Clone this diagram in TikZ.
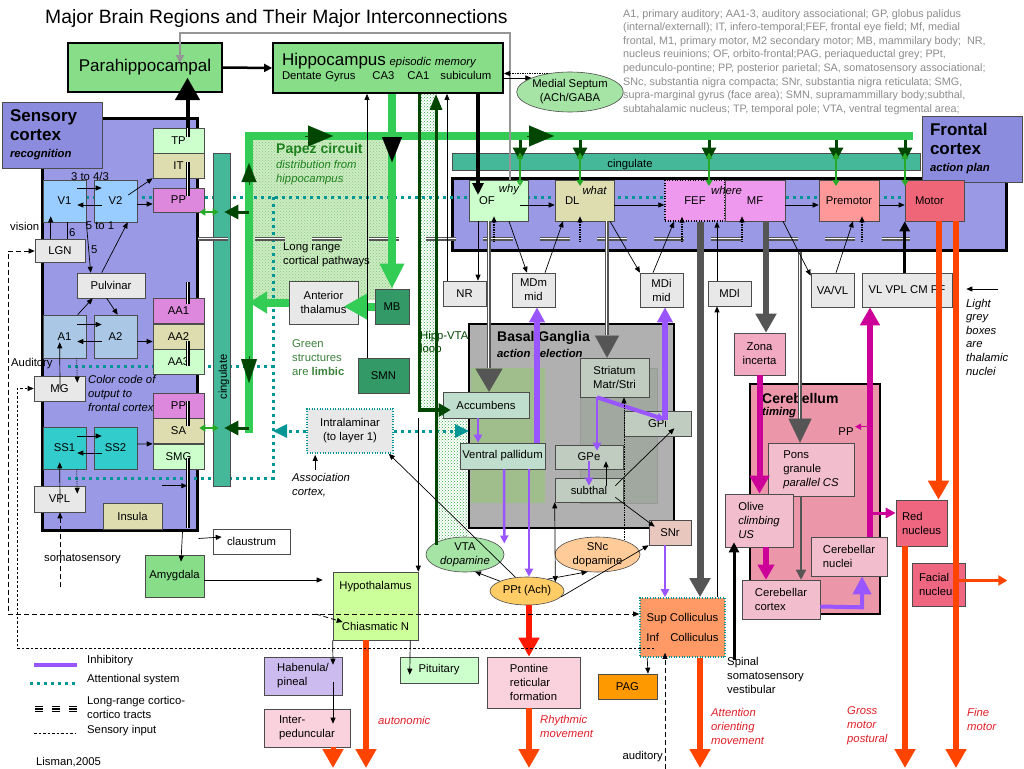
\documentclass[tikz,border=0pt]{standalone}
\usepackage{fontspec}
\setmainfont{Liberation Sans}
\usetikzlibrary{arrows.meta,patterns,shapes.geometric,calc}
\pgfdeclarelayer{panel}
\pgfdeclarelayer{behind}
\pgfsetlayers{panel,behind,main}
\newcommand{\labfont}{\fontsize{11.3}{14}\selectfont}
\definecolor{sensblue}{RGB}{153,153,230}
\definecolor{senslab}{RGB}{140,140,222}
\definecolor{limgreen}{RGB}{136,221,136}
\definecolor{septgreen}{RGB}{165,228,165}
\definecolor{vblue}{RGB}{153,204,255}
\definecolor{ablue}{RGB}{170,200,230}
\definecolor{sscyan}{RGB}{51,204,204}
\definecolor{palegreen}{RGB}{204,255,204}
\definecolor{khaki}{RGB}{221,221,176}
\definecolor{ppink}{RGB}{221,136,221}
\definecolor{thalgrey}{RGB}{232,232,232}
\definecolor{cing}{RGB}{68,184,153}
\definecolor{papgreen}{RGB}{51,204,85}
\definecolor{dkgreen}{RGB}{0,70,0}
\definecolor{ltgreen}{RGB}{40,170,40}
\definecolor{attcol}{RGB}{0,150,150}
\definecolor{bggrey}{RGB}{176,176,176}
\definecolor{ventral}{RGB}{160,190,140}
\definecolor{dorsal}{RGB}{160,168,160}
\definecolor{bgbox}{RGB}{192,204,192}
\definecolor{accgreen}{RGB}{192,222,205}
\definecolor{inhib}{RGB}{153,85,255}
\definecolor{mag}{RGB}{204,0,153}
\definecolor{motred}{RGB}{255,68,0}
\definecolor{pptred}{RGB}{255,25,0}
\definecolor{cerpink}{RGB}{236,150,170}
\definecolor{zonapink}{RGB}{242,170,195}
\definecolor{cerbox}{RGB}{242,190,205}
\definecolor{rednuc}{RGB}{238,102,128}
\definecolor{colli}{RGB}{255,153,102}
\definecolor{pagor}{RGB}{255,153,0}
\definecolor{hypo}{RGB}{204,255,153}
\definecolor{haben}{RGB}{204,187,238}
\definecolor{pontpink}{RGB}{250,210,222}
\definecolor{premot}{RGB}{255,153,153}
\definecolor{motor}{RGB}{238,102,119}
\definecolor{fefpink}{RGB}{238,153,238}
\definecolor{tractgrey}{RGB}{85,85,85}
\definecolor{linegrey}{RGB}{150,150,150}
\definecolor{abbrgrey}{RGB}{140,140,140}
\definecolor{papshade}{RGB}{205,236,195}
\definecolor{papdots}{RGB}{135,198,125}
\definecolor{hatchgreen}{RGB}{40,170,60}
\definecolor{snrtan}{RGB}{232,200,190}
\definecolor{sncpeach}{RGB}{255,204,153}
\definecolor{pptorange}{RGB}{255,204,102}
\definecolor{papeztext}{RGB}{30,130,30}
\definecolor{limbictext}{RGB}{60,130,60}
\definecolor{mbgreen}{RGB}{51,153,102}
\definecolor{redtext}{RGB}{225,30,40}
\tikzset{
  box/.style={draw=black!70, line width=0.6pt, align=center, inner sep=0pt, font=\labfont},
  sz/.style 2 args={minimum width=#1pt, minimum height=#2pt},
  arr/.style={line width=0.7pt, -{Triangle[length=6pt,width=5pt]}},
  inh/.style={draw=inhib, line width=2.5pt, -{Triangle[length=8pt,width=8pt]}},
  inhbig/.style={draw=inhib, line width=5.5pt, -{Triangle[length=15pt,width=15pt]}},
  attn/.style={draw=attcol, line width=3pt, dash pattern=on 3pt off 4pt},
  tract/.style={draw=#1, line width=3.8pt, postaction={draw=white, line width=2.2pt}, postaction={draw=#1, line width=0.7pt}},
  papez/.style={draw=papgreen, line width=8pt},
  dgarr/.style={draw=dkgreen, line width=3pt, -{Triangle[length=14pt,width=14pt]}},
  lgarr/.style={draw=ltgreen, line width=1.5pt, {Triangle[length=6pt,width=7pt]}-{Triangle[length=6pt,width=7pt]}},
  motarr/.style={draw=motred, line width=6pt, -{Triangle[length=19pt,width=20pt]}},
  magarr/.style={draw=mag, line width=6pt, -{Triangle[length=18pt,width=19pt]}},
  sensein/.style={dash pattern=on 5pt off 3pt, line width=0.8pt},
  sensefine/.style={dash pattern=on 2.5pt off 2pt, line width=0.5pt},
  note/.style={anchor=west, align=left, inner sep=0pt, font=\labfont},
  lefttext/.style={text width=39pt, align=left},
}
\begin{document}
\begin{tikzpicture}[x=1pt,y=-1pt]
\useasboundingbox (0,0) rectangle (1024,768);
\begin{pgfonlayer}{panel}
\fill[white] (0,0) rectangle (1024,768);
\node[draw=black, line width=3pt, fill=sensblue, sz={155}{412}] (senspanel) at (119.5,324) {};
\node[draw=black, line width=3pt, fill=sensblue, sz={554}{72}] (frontpanel) at (729,214) {};
\path[preaction={fill=papshade}, pattern=crosshatch dots, pattern color=papdots] (249,136) rectangle (393,300);
\path[preaction={fill=white}, pattern=crosshatch dots, pattern color=hatchgreen] (418,93) rectangle (436,409) (436,409) rectangle (469,540);
\node[draw=black, line width=2pt, fill=bggrey, sz={205}{204}] (bg) at (571.5,426) {};
\node[fill=ventral, sz={74}{135}] (ventral) at (508,435.5) {};
\node[draw=black!40, fill=dorsal, sz={77}{135}] (dorsal) at (618.5,435.5) {};
\node[draw=black, line width=2.5pt, fill=cerpink, sz={130}{230}] (cereb) at (815,499) {};
\end{pgfonlayer}

% title and abbreviations
\node[anchor=west, inner sep=0pt, font=\fontsize{19.3}{22}\selectfont] (title) at (45,19) {Major Brain Regions and Their Major Interconnections};
\node[anchor=north west, inner sep=0pt, align=left, text=abbrgrey, font=\fontsize{10.8}{13.6}\selectfont] (abbr) at (623,9) {A1, primary auditory; AA1-3, auditory associational; GP, globus palidus\\
(internal/externall); IT, infero-temporal;FEF, frontal eye field; Mf, medial\\
frontal, M1, primary motor, M2 secondary motor; MB, mammilary body;\ \ NR,\\
nucleus reuinions; OF, orbito-frontal;PAG, periaqueductal grey; PPt,\\
pedunculo-pontine; PP, posterior parietal; SA, somatosensory associational;\\
SNc, substantia nigra compacta; SNr, substantia nigra reticulata; SMG,\\
supra-marginal gyrus (face area); SMN, supramammillary body;subthal,\\
subtahalamic nucleus; TP, temporal pole; VTA, ventral tegmental area;};

% hippocampal system
\node[box, draw=black, line width=1.8pt, fill=limgreen, sz={154}{49}, font=\fontsize{17}{19}\selectfont] (parahip) at (145,67.5) {Parahippocampal};
\node[box, draw=black, line width=1.8pt, fill=limgreen, sz={230}{50}, text width=212pt, align=left] (hippo) at (388,68) {{\fontsize{17}{19}\selectfont Hippocampus} {\itshape episodic memory}\par
Dentate Gyrus\hspace{17pt}CA3\hspace{13pt}CA1\hspace{11pt}subiculum\par};
\node[box, ellipse, fill=septgreen, sz={92}{40}] (septum) at (570,92) {Medial Septum\\(ACh/GABA};

% sensory cortex
\node[draw=black!70, line width=0.6pt, fill=senslab, sz={100}{66}, text width=84pt, align=left, inner sep=0pt] (senslab) at (52,135) {{\fontsize{17}{19}\selectfont\bfseries Sensory\\cortex\par}{\fontsize{11.3}{17}\selectfont\bfseries\itshape recognition\par}};
\node[box, fill=vblue, sz={43}{42}] (v1) at (64.5,201) {V1};
\node[box, fill=vblue, sz={43}{42}] (v2) at (115.5,201) {V2};
\node[box, fill=palegreen, sz={51}{25}] (tp) at (178.5,140.5) {TP};
\node[box, fill=khaki, sz={51}{25}] (it) at (178.5,165.5) {IT};
\node[box, fill=ppink, sz={51}{24}] (pp) at (178.5,200) {PP};
\node[box, fill=thalgrey, sz={50}{23}] (lgn) at (60,251) {LGN};
\node[box, fill=thalgrey, sz={68}{25}] (pulv) at (111,285.5) {Pulvinar};
\node[box, fill=ablue, sz={43}{43}] (a1) at (64.5,336.5) {A1};
\node[box, fill=ablue, sz={43}{43}] (a2) at (115.5,336.5) {A2};
\node[box, fill=ppink, sz={51}{25}] (aa1) at (178.5,311) {AA1};
\node[box, fill=khaki, sz={51}{25}] (aa2) at (178.5,336.5) {AA2};
\node[box, fill=palegreen, sz={51}{25}] (aa3) at (178.5,362) {AA3};
\node[box, fill=thalgrey, sz={51}{25}] (mg) at (59.5,388.5) {MG};
\node[box, fill=ppink, sz={51}{25}] (pp2) at (178.5,405.5) {PP};
\node[box, fill=khaki, sz={51}{25}] (sa) at (178.5,431) {SA};
\node[box, fill=palegreen, sz={51}{25}] (smg) at (178.5,456.5) {SMG};
\node[box, fill=sscyan, sz={43}{42}] (ss1) at (64.5,448) {SS1};
\node[box, fill=sscyan, sz={43}{42}] (ss2) at (115.5,448) {SS2};
\node[box, fill=thalgrey, sz={51}{26}] (vpl) at (59.5,499) {VPL};
\node[box, fill=khaki, sz={59}{26}] (insula) at (132.5,516) {Insula};
\node[box, fill=cing, sz={17}{333}] (cingver) at (221.5,319.5) {};
\node[rotate=90, font=\labfont, inner sep=0pt] (cingvlab) at (224,377) {cingulate};

% frontal cortex
\node[box, fill=cing, sz={468}{17}] (cinghor) at (686,161.5) {};
\node[font=\labfont, inner sep=0pt] (cinghlab) at (630,165) {cingulate};
\node[draw=black!70, line width=0.6pt, fill=senslab, sz={100}{66}, text width=84pt, align=left, inner sep=0pt] (frontlab) at (972,149) {{\fontsize{17}{19}\selectfont\bfseries Frontal\\cortex\par}{\fontsize{11.3}{17}\selectfont\bfseries\itshape action plan\par}};
\node[box, fill=palegreen, lefttext, sz={59}{41}] (of) at (498.5,200.5) {OF};
\node[box, fill=khaki, lefttext, sz={59}{41}] (dl) at (584.5,200.5) {DL};
\node[box, fill=fefpink, draw=black, dotted, line width=1.4pt, sz={60}{41}] (fef) at (695,200.5) {FEF};
\node[box, fill=fefpink, sz={60}{41}] (mf) at (755,200.5) {MF};
\node[box, fill=premot, sz={60}{41}] (premotor) at (849,200.5) {Premotor};
\node[box, fill=motor, lefttext, sz={59}{41}] (motor) at (934.5,200.5) {Motor};
\node[font=\labfont\itshape, inner sep=0pt] (whylab) at (509,190) {why};
\node[font=\labfont\itshape, inner sep=0pt] (whatlab) at (594.5,190) {what};
\node[font=\labfont\itshape, inner sep=0pt] (wherelab) at (726.5,190) {where};

% thalamic nuclei
\node[box, fill=thalgrey, sz={43}{25}] (nr) at (464.5,293.5) {NR};
\node[box, fill=thalgrey, sz={43}{34}] (mdm) at (533.5,290) {MDm\\mid};
\node[box, fill=thalgrey, sz={43}{34}] (mdi) at (661.5,290) {MDi\\mid};
\node[box, fill=thalgrey, sz={43}{25}] (mdl) at (729.5,293.5) {MDl};
\node[box, fill=thalgrey, sz={43}{34}] (vavl) at (832.5,290) {VA/VL};
\node[box, fill=thalgrey, sz={90}{34}] (vlvpl) at (907,290) {VL VPL CM PF};
\node[box, fill=thalgrey, sz={69}{43}] (antthal) at (323.5,302.5) {Anterior\\thalamus};
\node[box, fill=mbgreen, sz={34}{35}] (mb) at (392,306.5) {MB};
\node[box, fill=mbgreen, sz={51}{35}] (smn) at (383.5,375.5) {SMN};
\node[box, fill=thalgrey, draw=attcol, dotted, line width=1.6pt, sz={86}{44}] (intral) at (350,431) {Intralaminar\\(to layer 1)};

% basal ganglia
\node[box, fill=bgbox, sz={69}{39}] (striatum) at (614.5,377.5) {Striatum\\Matr/Stri};
\node[box, fill=bgbox, sz={67}{25}] (gpi) at (657.5,423.5) {GPi};
\node[box, fill=bgbox, sz={68}{24}] (gpe) at (589,457) {GPe};
\node[box, fill=bgbox, sz={68}{24}] (subthal) at (589,490) {subthal};
\node[box, fill=accgreen, sz={86}{26}] (acc) at (486,405) {Accumbens};
\node[box, fill=accgreen, sz={85}{26}] (vp) at (502.5,456) {Ventral pallidum};
\node[box, fill=snrtan, sz={42}{25}] (snr) at (670,532.5) {SNr};
\node[box, ellipse, fill=sncpeach, sz={85}{35}] (snc) at (597.5,554.5) {SNc\\dopamine};
\node[box, ellipse, fill=pptorange, sz={74}{28}] (ppt) at (527,591) {PPt (Ach)};
\node[box, ellipse, fill=septgreen, sz={78}{35}] (vta) at (465,554.5) {VTA\\\textit{dopamine}};
\node[note, font=\fontsize{14}{16}\selectfont\bfseries] (bglab) at (497,338) {Basal Ganglia};
\node[note, font=\labfont\bfseries\itshape] (bgsub) at (497,353) {action selection};

% cerebellum and motor
\node[box, fill=zonapink, sz={51}{42}] (zona) at (759.5,354) {Zona\\incerta};
\node[box, fill=cerbox, align=left, sz={86}{53}] (pons) at (811,469.5) {Pons\\granule\\\textit{parallel CS}};
\node[box, fill=cerbox, align=left, sz={68}{53}] (olive) at (759,520.5) {Olive\\\textit{climbing}\\\textit{US}};
\node[box, fill=cerbox, align=left, sz={76}{39}] (cernuc) at (849,556.5) {Cerebellar\\nuclei};
\node[box, fill=cerbox, align=left, sz={78}{39}] (cercor) at (781,599.5) {Cerebellar\\cortex};
\node[box, fill=rednuc, align=left, sz={51}{46}] (rednucl) at (921.5,523) {Red\\nucleus};
\node[box, fill=rednuc, align=left, sz={53}{43}] (facial) at (938.5,584.5) {Facial\\nucleus};
\node[note, font=\fontsize{14}{16}\selectfont\bfseries] (cerlab) at (762,398) {Cerebellum};
\node[note, font=\labfont\bfseries\itshape] (cersub) at (762,413) {timing};
\node[font=\labfont, inner sep=0pt] (pplab) at (846,432) {PP};

% lower structures
\node[box, fill=white, sz={77}{25}] (claus) at (251.5,541.5) {claustrum};
\node[box, fill=limgreen, sz={59}{42}] (amyg) at (174.5,576) {Amygdala};
\node[box, fill=hypo, sz={85}{68}] (hypoth) at (375.5,606) {Hypothalamus\\[27pt]Chiasmatic N};
\node[box, fill=haben, align=left, sz={78}{38}] (haben) at (303,676) {Habenula/\\pineal};
\node[box, fill=pontpink, align=left, sz={86}{38}] (interp) at (307,728) {Inter-\\peduncular};
\node[box, fill=palegreen, sz={78}{26}] (pit) at (439,670) {Pituitary};
\node[box, fill=pontpink, align=left, sz={93}{51}] (pont) at (533.5,682.5) {Pontine\\reticular\\formation};
\node[box, fill=colli, draw=attcol, dotted, line width=1.6pt, sz={85}{59}] (colli) at (682.5,627.5) {Sup Colliculus\\[6pt]Inf\quad Colliculus};
\node[box, fill=pagor, sz={59}{25}] (pag) at (627.5,686.5) {PAG};

% helper points on the nodes
\coordinate (smnUp) at ($(smn.north)+(-16.5,0)$);
\coordinate (nrUp) at ($(nr.north)+(-17.5,0)$);
\coordinate (vtaUp) at ($(vta.north)+(-29,8)$);
\coordinate (strTip) at ($(striatum.north)+(-7.5,0)$);
\coordinate (ponsTip) at ($(pons.north)+(-11,0)$);
\coordinate (outY) at (0,768);
\coordinate (fineTop) at ($(motor.south)+(21.5,0)$);
\coordinate (grossTop) at ($(rednucl.south)+(-16.5,0)$);
\coordinate (autoTop) at ($(hypoth.south)+(-9.5,0)$);
\coordinate (ipTop) at ($(interp.south)+(26,0)$);
\coordinate (rhythTop) at ($(pont.south)+(-4.5,0)$);
\coordinate (orientTop) at ($(colli.south)+(17.5,0)$);

% attentional system, behind the boxes
\begin{pgfonlayer}{behind}
\coordinate (attTop) at (273,197);
\coordinate (attMid) at (273,366);
\coordinate (attBot) at (273,478);
\draw[attn] ($(v1.east)+(0,-4)$) -- ($(motor.west)+(0,-3.5)$);
\draw[attn] (68,366) -- (attMid);
\draw[attn] (68,478) -- (attBot) -- (attTop);
\end{pgfonlayer}
\draw[attn, -{Triangle[length=14pt,width=13pt]}] (intral.west) -- (attTop |- intral.west);
\draw[attn, -{Triangle[length=14pt,width=13pt]}] (intral.east) -- (469,0 |- intral.east);

% long range tracts
\foreach \a/\b in {97/137,162/196,282/304,341/366,401/426,458/528}
  \draw[tract=black] (188,\a) -- (188,\b);
\draw[-{Triangle[length=22pt,width=25pt]}, line width=0.1pt] (187.5,0 |- tp.north) -- (187.5,78);
\draw[tract=tractgrey, dash pattern=on 30pt off 27pt] (198,239) -- (910,239);
\draw[tract=tractgrey] (489,0 |- of.south) -- (489,368);
\draw[tractgrey, -{Triangle[length=23pt,width=27pt]}, line width=0.1pt] (489,369) -- (489,0 |- acc.north);
\draw[tract=tractgrey] (strTip |- dl.south) -- ($(strTip)+(0,-23)$);
\draw[tractgrey, -{Triangle[length=22pt,width=24pt]}, line width=0.1pt] ($(strTip)+(0,-22)$) -- (strTip);
\draw[tract=tractgrey] (ponsTip |- frontpanel.south) -- ($(ponsTip)+(0,-24)$);
\draw[tractgrey, -{Triangle[length=24pt,width=23pt]}, line width=0.1pt] ($(ponsTip)+(0,-23)$) -- (ponsTip);
\draw[tractgrey, line width=1.5pt, -{Triangle[length=10pt,width=10pt]}] ($(pons.south)+(-10,0)$) -- ($(cercor.north)+(20,0)$);
\draw[tractgrey, line width=7pt, -{Triangle[length=19pt,width=20pt]}] ($(fef.south)+(5,0)$) -- ($(colli.north)+(17.5,0)$);
\draw[tractgrey, line width=6pt, -{Triangle[length=19pt,width=20pt]}] ($(mf.south)+(11,0)$) -- ($(zona.north)+(6.5,0)$);

% Papez circuit
\coordinate (papL) at (249,136);
\coordinate (papR) at (913,136);
\draw[papez] (papL) -- (papR);
\draw[papez] ($(papL)+(0,-4)$) -- (249,433);
\draw[dkgreen, -{Triangle[length=25pt,width=21pt]}, line width=0.1pt] (305,136) -- (333,136);
\draw[dkgreen, -{Triangle[length=25pt,width=21pt]}, line width=0.1pt] (527,136) -- (554,136);
\draw[dkgreen, -{Triangle[length=19pt,width=15pt]}, line width=0.1pt] (249,185) -- (249,163);
\draw[dkgreen, -{Triangle[length=24pt,width=16pt]}, line width=0.1pt] (249,356) -- (249,383);
\draw[dgarr] (249,212) -- ($(cingver.east |- pp.east)+(-6,12)$);
\draw[dgarr] (249,428) -- ($(cingver.east |- sa.east)+(-6,-3)$);
\draw[lgarr] ($(pp.east)+(-5,12)$) -- ($(cingver.west |- pp.east)+(6,12)$);
\draw[lgarr] ($(sa.east)+(-5,-3)$) -- ($(cingver.west |- sa.east)+(6,-3)$);
\foreach \x in {520,580,709,836,905}
  \draw[dgarr] (\x,140) -- (\x,0 |- cinghor.center);
\draw[draw=ltgreen, line width=1.5pt, {Triangle[open,length=6pt,width=7pt]}-{Triangle[open,length=6pt,width=7pt]}] (520,0 |- cinghor.north) -- (520,186);
\foreach \x in {580,709,836,905}
  \draw[lgarr] (\x,0 |- cinghor.north) -- (\x,186);
\draw[papez, -{Triangle[length=25pt,width=23pt]}] (mb.north |- hippo.south) -- (mb.north);
\draw[-{Triangle[length=25pt,width=20pt]}, line width=0.1pt] (392,137) -- (392,162);
\draw[papez, -{Triangle[length=24pt,width=25pt]}] (mb.west) -- ++(-31,0);
\draw[papez, -{Triangle[length=18pt,width=21pt]}] (antthal.west) -- (papL |- antthal.west);

% hippocampal connections
\draw[line width=2.5pt, -{Triangle[length=8pt,width=8pt]}] (parahip.east) -- (hippo.west);
\draw[linegrey, line width=2.5pt, -{Triangle[length=8pt,width=8pt]}] (510,0 |- of.north) -- (510,33) -- (180,33) -- ($(parahip.north)+(35,21)$);
\draw[arr] (hippo.east |- septum.160) -- (septum.160);
\draw[arr, densely dotted] (septum.140) -- (hippo.east |- septum.140);
\draw[line width=3.5pt, -{Triangle[length=12pt,width=11pt]}] (478,0 |- hippo.south) -- (478,195);
\draw[arr] (smnUp) -- (smnUp |- hippo.south);
\draw[arr] (nrUp) -- (nrUp |- hippo.south);
\draw[arr] (hypoth.north east |- acc.south) -- (hypoth.north east);
\draw[dkgreen, line width=3.5pt, -{Triangle[length=12pt,width=13pt]}] (419.5,0 |- hippo.south) -- (419.5,410) -- ($(acc.west)+(8,5)$);
\draw[dkgreen, line width=3pt, -{Triangle[length=16pt,width=12pt]}] (vtaUp) -- (vtaUp |- hippo.south);

% sensory connections
\draw[arr] ($(v1.east)+(-9,-13)$) -- ($(v2.west)+(8,-13)$);
\draw[arr] ($(v2.west)+(8,4)$) -- ($(v1.east)+(-9,4)$);
\draw[arr] ($(v2.east)+(-9,-6)$) -- (it.south west);
\draw[arr] ($(v2.east)+(0,3)$) -- ($(pp.west)+(0,4)$);
\draw[arr] ($(lgn.north west)+(16,0)$) -- ($(v1.south west)+(8,-6)$);
\draw[line width=0.7pt] ($(v1.south west)+(25,0)$) -- node[pos=.6, right=1pt, inner sep=0pt, font=\labfont] {6} ($(lgn.north west)+(33,0)$);
\draw[arr] (v1.south east) -- node[pos=.55, right=2pt, inner sep=0pt, font=\labfont] {5} ($(pulv.north west)+(14,0)$);
\draw[arr] ($(pulv.north west)+(25,0)$) -- ($(v2.south west)+(34,0)$);
\node[font=\labfont, inner sep=0pt] (lab34) at (90,176) {3 to 4/3};
\node[font=\labfont, inner sep=0pt] (lab51) at (100,226) {5 to 1};
\node[note] (vision) at (10,226) {vision};
\draw[arr] ($(a1.north west)+(35,0)$) -- ($(pulv.south west)+(16,0)$);
\draw[arr] ($(pulv.south west)+(30,0)$) -- ($(a2.north west)+(24,0)$);
\draw[arr] ($(a1.east)+(-9,-12)$) -- ($(a2.west)+(8,-12)$);
\draw[arr] ($(a2.west)+(8,5)$) -- ($(a1.east)+(-9,5)$);
\draw[arr] ($(a2.east)+(0,5)$) -- ($(aa2.west)+(0,5)$);
\draw[arr] ($(mg.center)+(0.5,0)$) -- ($(a1.south west)+(17,-16)$);
\draw[arr, densely dotted] ($(a1.south west)+(34,0)$) -- ($(mg.north east)+(-8,7)$);
\draw[arr] ($(ss1.east)+(-9,-12)$) -- ($(ss2.west)+(8,-12)$);
\draw[arr] ($(ss2.west)+(8,5)$) -- ($(ss1.east)+(-9,5)$);
\draw[arr] ($(ss2.east)+(0,-4)$) -- (sa.south west);
\draw[arr] ($(vpl.center)+(0.5,4)$) -- ($(ss1.south west)+(17,-7)$);
\draw[arr, densely dotted] ($(ss1.south west)+(34,0)$) -- ($(vpl.north east)+(-8,8)$);
\draw[arr] ($(insula.north east)+(0,-17)$) -- ++(25,0);
\node[note] (audlab0) at (11,364) {Auditory};
\node[note, font=\labfont\itshape] (colcode) at (88,393) {Color code of\\output to\\frontal cortex};
\draw[arr] ($(senspanel.south east)+(0,7)$) -- ($(claus.west)+(9,-4.5)$);
\draw[arr] ($(senspanel.south east)+(-16,0)$) -- ($(amyg.north)+(6.5,7)$);
\draw[arr] ($(amyg.east)+(0,4)$) -- ($(hypoth.west)+(-10,-26)$);

% frontal and thalamic connections
\draw[arr] ($(of.east)+(-8,4.5)$) -- ($(dl.west)+(0,4.5)$);
\draw[arr] ($(dl.east)+(0,4.5)$) -- ($(fef.west)+(0,4.5)$);
\draw[arr] ($(mf.east)+(0,4.5)$) -- ($(premotor.west)+(0,4.5)$);
\draw[arr] ($(premotor.east)+(0,4.5)$) -- ($(motor.west)+(0,4.5)$);
\draw[arr, densely dotted, line width=1.2pt] ($(of.south)+(-4.5,20)$) -- ($(of.south)+(-4.5,-5)$);
\draw[arr, densely dotted, line width=1.2pt] ($(dl.south)+(-4.5,20)$) -- ($(dl.south)+(-4.5,-5)$);
\draw[arr, densely dotted, line width=1.2pt] ($(fef.south)+(-13,20)$) -- ($(fef.south)+(-13,-5)$);
\draw[arr, densely dotted, line width=1.2pt] ($(mf.south)+(-13,20)$) -- ($(mf.south)+(-13,-5)$);
\draw[arr, densely dotted, line width=1.2pt] ($(premotor.south)+(13,20)$) -- ($(premotor.south)+(13,-5)$);
\draw[arr] ($(of.south)+(-20.5,0)$) -- ($(nr.north)+(13.5,0)$);
\draw[arr] ($(of.south)+(10.5,0)$) -- ($(mdm.north)+(-6.5,0)$);
\draw[arr] ($(mdm.north)+(11.5,0)$) -- ($(dl.south)+(-21.5,0)$);
\draw[arr] ($(dl.south)+(25.5,0)$) -- ($(mdi.north)+(-21.5,0)$);
\draw[arr] ($(mdi.north)+(-8.5,0)$) -- ($(fef.south)+(-21,0)$);
\draw[arr] ($(colli.north)+(34.5,0)$) -- ($(mdl.south)+(-12.5,0)$);
\draw[arr] ($(mdl.north)+(-12.5,0)$) -- ($(fef.south)+(22,0)$);
\draw[arr] ($(mf.south)+(28,0)$) -- ($(vavl.north west)+(0,3)$);
\draw[arr] ($(vavl.north)+(3.5,0)$) -- ($(premotor.south)+(4,0)$);
\draw[line width=3pt, -{Triangle[length=10pt,width=10pt]}] (motor.south west |- vlvpl.north) -- (motor.south west);
\draw[arr] ($(vlvpl.east)+(46,-1)$) -- ($(vlvpl.east)+(14,-1)$);
\node[note, font=\fontsize{11.3}{13.6}\selectfont\itshape] (thalnote) at (966,337) {Light\\grey\\boxes\\are\\thalamic\\nuclei};

% basal ganglia connections
\draw[inh] ($(acc.south)+(-8,0)$) -- ($(vp.north)+(-24.5,0)$);
\draw[inhbig] ($(vp.north)+(34.5,0)$) -- ($(mdm.south)+(3.5,0)$);
\draw[inh] ($(vp.south)+(1.5,0)$) -- ($(vta.east)+(0,-11)$);
\draw[inh] ($(vp.south)+(26.5,0)$) -- ($(ppt.north)+(2,0)$);
\draw[inh] ($(striatum.south)+(-17.5,0)$) -- ($(gpe.north)+(8,6)$);
\draw[inh, line width=4pt] ($(striatum.south)+(-17.5,0)$) -- ($(gpi.center)+(7.5,-4)$);
\draw[inhbig] ($(gpi.center)+(7.5,-4)$) -- ($(mdi.south)+(3.5,0)$);
\draw[inh] ($(gpe.center)+(0,4)$) -- ($(subthal.north)+(0,8)$);
\draw[arr] ($(subthal.north)+(17,8)$) -- ($(gpe.south)+(17,-8)$);
\draw[arr] ($(subthal.north east)+(-8,8)$) -- ($(gpi.south east)+(-17,-8)$);
\draw[arr, densely dotted] ($(snc.north)+(26.5,3)$) -- ($(striatum.south)+(9.5,0)$);
\draw[arr, {Triangle[length=6pt,width=5pt]}-{Triangle[length=6pt,width=5pt]}] (subthal.south west) -- ($(ppt.east)+(-9,-9)$);
\draw[arr] (ppt.30) -- (snc.240);
\draw[arr] (ppt.350) -- (snr.south west);
\draw[arr] ($(subthal.south east)+(-8,-5)$) -- ($(snr.north west)+(6,7)$);
\draw[arr] (ppt.160) -- (vta.300);
\draw[arr] (ppt.130) -- ($(intral.south east)+(-5,0)$);
\draw[arr] ($(intral.south west)+(9,16)$) -- ($(intral.south west)+(9,1)$);
\node[note, font=\labfont\itshape] (assoc) at (292,485) {Association\\cortex,};
\draw[inh, line width=2pt] ($(snr.south)+(-5,0)$) -- ($(colli.north)+(-17.5,0)$);
\draw[arr] ($(colli.south west)+(8,0)$) -- ($(pag.north)+(20.5,0)$);

% cerebellar connections
\draw[magarr] (zona.south) -- (zona.south |- olive.north);
\draw[draw=mag, line width=6pt, -{Triangle[length=15pt,width=16pt]}] ($(olive.south)+(7,0)$) -- ($(cercor.north)+(-15,0)$);
\draw[magarr] ($(cernuc.north)+(21,0)$) -- ($(vlvpl.south)+(-37,0)$);
\draw[draw=mag, line width=3pt, -{Triangle[length=10pt,width=10pt]}] ($(rednucl.west)+(-26,-10)$) -- ($(rednucl.west)+(0,-10)$);
\draw[draw=mag, line width=1.5pt, -{Triangle[length=6pt,width=6pt]}] ($(cernuc.north)+(19,-110)$) -- ++(-13,0);
\draw[draw=inhib, line width=4pt, -{Triangle[length=18pt,width=18pt]}] ($(cercor.east)+(0,7)$) -- ($(cernuc.south)+(13,31)$) -- ($(cernuc.south)+(13,0)$);
\draw[line width=3pt, -{Triangle[length=10pt,width=10pt]}] ($(olive.south)+(-25,113)$) -- ($(olive.south)+(-25,-5)$);
\node[note] (spinal) at (727,675) {Spinal\\somatosensory\\vestibular};

% motor outputs
\draw[motarr] ($(motor.south)+(4,0)$) -- ($(rednucl.north)+(17,0)$);
\draw[motarr] (fineTop) -- (fineTop |- outY);
\draw[motarr] (grossTop) -- (grossTop |- outY);
\draw[draw=motred, line width=2.5pt, -{Triangle[length=9pt,width=10pt]}] ($(facial.east)+(-8,-4)$) -- ++(50,0);
\draw[motarr] (autoTop) -- (autoTop |- outY);
\draw[motarr, line width=5pt] (ipTop) -- (ipTop |- outY);
\draw[motarr, draw=pptred] ($(ppt.south)+(2,0)$) -- ($(pont.north)+(-4.5,0)$);
\draw[motarr] (rhythTop) -- (rhythTop |- outY);
\draw[motarr] (orientTop) -- (orientTop |- outY);
\node[note, text=redtext, font=\labfont\itshape] (autolab) at (378,720) {autonomic};
\node[note, text=redtext, font=\labfont\itshape] (rhythlab) at (540,726) {Rhythmic\\movement};
\node[note, text=redtext, font=\labfont\itshape] (attlab) at (711,726) {Attention\\orienting\\movement};
\node[note, text=redtext, font=\labfont\itshape] (grosslab) at (847,726) {Gross\\motor\\postural};
\node[note, text=redtext, font=\labfont\itshape] (finelab) at (967,719) {Fine\\motor};

% hypothalamic outputs
\draw[arr] (hypoth.south west) -- ($(haben.north)+(30,8)$);
\draw[arr] ($(haben.south)+(30,-13)$) -- ($(interp.north)+(26,15)$);
\draw[arr] ($(hypoth.south east)+(-8,0)$) -- ($(pit.north west)+(10,18)$);

% sensory input
\coordinate (sensL) at (8,614);
\coordinate (sensF) at (17,648);
\draw[sensein, {Triangle[length=6pt,width=5pt]}-{Triangle[length=6pt,width=5pt]}] (lgn.west) -| (sensL) -- (colli.west |- sensL);
\draw[sensein, -{Triangle[length=6pt,width=5pt]}] ($(hypoth.west)+(-17,8)$) -- ($(hypoth.west)+(10,16)$);
\draw[sensefine, -{Triangle[length=6pt,width=5pt]}] ($(colli.west)+(15,20.5)$) -- (sensF) |- (mg.west);
\draw[sensein, -{Triangle[length=6pt,width=5pt]}] ($(vpl.south)+(0.5,75)$) -- ($(vpl.south)+(0.5,0)$);
\node[note] (somlab) at (44,559) {somatosensory};
\draw[sensein, -{Triangle[length=6pt,width=5pt]}] ($(colli.south)+(-17.5,111)$) -- ($(colli.south)+(-17.5,-5)$);
\node[note, anchor=east] (audlab) at (663,757) {auditory};

% labels
\node[note, font=\fontsize{14}{16}\selectfont\bfseries, text=papeztext] (papezlab) at (276,150) {Papez circuit};
\node[note, font=\labfont\itshape, text=papeztext] (papezsub) at (276,173) {distribution from\\hippocampus};
\node[note] (longrange) at (283,255) {Long range\\cortical pathways};
\node[note, text=limbictext] (limbic) at (292,358) {Green\\structures\\are \textbf{limbic}};
\node[note, text=dkgreen, font=\fontsize{11.3}{13}\selectfont] (hippvta) at (420,343) {Hipp-VTA\\loop};

% legend
\draw[inhib, line width=4pt] (34,665) -- (77,665);
\node[note] (leg1) at (87,661) {Inhibitory};
\draw[attn] (30,683) -- (77,683);
\node[note] (leg2) at (87,680) {Attentional system};
\foreach \x in {35,52,69}
  \foreach \y in {706.5,709,711.5}
    \draw[line width=1.3pt] (\x,\y) -- ++(8,0);
\node[note] (leg3) at (87,707) {Long-range cortico-\\cortico tracts};
\draw[sensefine] (34,733) -- (75,733);
\node[note] (leg4) at (87,731) {Sensory input};
\node[note] (lisman) at (36,762) {Lisman,2005};
\end{tikzpicture}
\end{document}
